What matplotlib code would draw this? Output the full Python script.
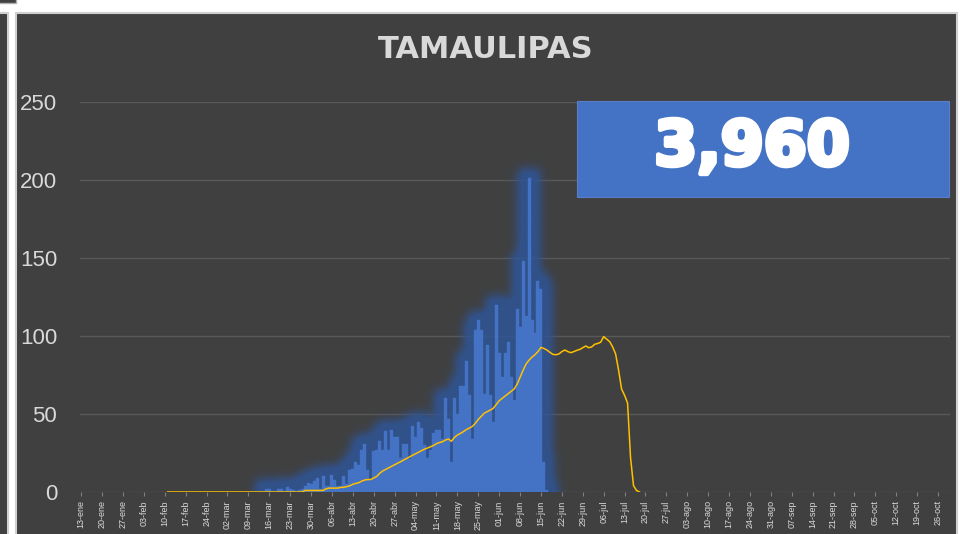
import numpy as np
import pandas as pd
import matplotlib
matplotlib.use("Agg")
import matplotlib.pyplot as plt
from matplotlib.patches import Rectangle
import matplotlib.patheffects as pe

plt.rcParams['font.family'] = ['Liberation Sans', 'DejaVu Sans']

# eje de fechas: una etiqueta por semana desde el 13-ene
inicio = pd.Timestamp('2020-01-13')
meses = ['ene', 'feb', 'mar', 'abr', 'may', 'jun', 'jul', 'ago', 'sep', 'oct', 'nov', 'dic']
n_dias = 291

# casos nuevos por dia, a partir del 15-mar
casos_inicio = '2020-03-15'
casos = [2, 2, 0, 0, 2, 2, 0, 3, 2, 1, 0, 1, 2, 4, 6, 5, 7, 9, 2, 10,
         4, 4, 11, 8, 4, 4, 10, 5, 14, 15, 19, 17, 27, 31, 14, 8, 26, 27, 33, 27,
         39, 27, 40, 35, 35, 22, 31, 31, 21, 42, 35, 45, 41, 30, 22, 27, 38, 40, 40, 34,
         60, 47, 19, 60, 50, 68, 68, 84, 62, 34, 104, 110, 104, 63, 94, 62, 45, 120, 89, 74,
         89, 96, 74, 59, 117, 106, 148, 113, 201, 110, 102, 135, 130, 19, 1]

# promedio movil, a partir del 11-feb
prom_inicio = '2020-02-11'
promedio = [0] * 46 + [
    1, 1, 1, 1, 1, 1, 1, 2, 2.5, 2.5, 2.5, 2.5, 3, 3, 3.5, 4, 5, 5.5, 6, 7,
    7.7, 8, 8, 9, 10, 12, 13.5, 14.5, 15.5, 16.5, 17.5, 18.5, 19.4, 20.5, 21.5, 22.5, 23.6, 24.5, 25.5, 26.5,
    27.5, 28.2, 29, 29.8, 31, 31.7, 32.2, 33.3, 34, 32.5, 35, 36.5, 37.5, 38.7, 40, 41, 42, 44, 46.5, 48.5,
    50.5, 51.5, 52.5, 53.6, 56, 58.5, 60, 61.5, 63, 64.5, 66, 69, 73.5, 78, 82, 84.5, 86.5, 88, 90, 92.7,
    92, 91, 89.5, 88.2, 88, 88.5, 90, 91, 90, 89.3, 90, 90.8, 91.4, 92.5, 93.6, 92.5, 93, 94.7, 95.2, 96,
    99.6, 98, 96.4, 93, 88.5, 78, 66, 62, 57, 22, 4, 1, 0]

estado = 'TAMAULIPAS'
total = sum(casos)

dias_casos = (pd.Timestamp(casos_inicio) - inicio).days + np.arange(len(casos))
dias_prom = (pd.Timestamp(prom_inicio) - inicio).days + np.arange(len(promedio))

fondo = '#404040'
azul = '#4472C4'
texto = '#d9d9d9'

fig = plt.figure(figsize=(9.6, 5.34), dpi=100, facecolor='white')

# paneles de fondo
fig.patches.append(Rectangle((16 / 960, -0.01), 941 / 960, 521 / 534 + 0.01, transform=fig.transFigure,
                             facecolor=fondo, edgecolor='#d0d0d0', lw=1.5, zorder=-2))
fig.patches.append(Rectangle((-0.01, -0.01), 8 / 960 + 0.01, 521 / 534 + 0.01, transform=fig.transFigure,
                             facecolor=fondo, edgecolor='#d0d0d0', lw=1.5, zorder=-2))
fig.patches.append(Rectangle((-0.01, 1 - 3 / 534), 16 / 960 + 0.01, 0.02, transform=fig.transFigure,
                             facecolor=fondo, edgecolor='#b0b0b0', lw=1, zorder=-2))

ax = fig.add_axes([80 / 960, 42 / 534, 870 / 960, 390 / 534])
ax.set_facecolor(fondo)
ax.patch.set_alpha(0)

# resplandor alrededor de las barras: silueta ensanchada y difuminada (~1 px por muestra)
xs = np.arange(-0.5, n_dias, 1 / 3)
ys = np.arange(-25, 250, 0.64)
alturas = dict(zip(dias_casos, casos))
h = np.array([alturas.get(i, 0) for i in np.round(xs).astype(int)], dtype=float)
r = 9
hp = np.pad(h, r)
h_anch = np.max([hp[i:i + len(h)] for i in range(2 * r + 1)], axis=0)
h_anch = np.where(h_anch > 0, h_anch + r * 0.64, 0)
mascara = ((ys[:, None] < h_anch[None, :]) & (h_anch[None, :] > 0)).astype(float)
k = np.exp(-0.5 * (np.arange(-18, 19) / 5.0) ** 2)
k /= k.sum()
borr = np.apply_along_axis(lambda f: np.convolve(f, k, mode='same'), 1, mascara)
borr = np.apply_along_axis(lambda c: np.convolve(c, k, mode='same'), 0, borr)
img = np.zeros(borr.shape + (4,))
img[..., 0] = 0x2F / 255
img[..., 1] = 0x55 / 255
img[..., 2] = 0x97 / 255
img[..., 3] = np.clip(borr * 1.3, 0, 1) * 0.85
ax.imshow(img, origin='lower', aspect='auto', interpolation='bilinear',
          extent=[xs[0] - 1 / 6, xs[-1] + 1 / 6, ys[0] - 0.32, ys[-1] + 0.32], zorder=1.5)

ax.bar(dias_casos, casos, width=1.0, color=azul, edgecolor=azul, linewidth=0.3, zorder=2)
ax.plot(dias_prom, promedio, color='#FFC000', lw=1.1, zorder=3)

ax.set_xlim(-0.4, n_dias)
ax.set_ylim(0, 250)
ax.set_yticks(range(0, 251, 50))
ax.yaxis.grid(True, color='#595959', lw=1)
ax.set_axisbelow(True)
for s in ax.spines.values():
    s.set_visible(False)

semanas = np.arange(0, 288, 7)
etiquetas = []
for d in semanas:
    f = inicio + pd.Timedelta(days=int(d))
    etiquetas.append('%02d-%s' % (f.day, meses[f.month - 1]))
ax.set_xticks(semanas)
ax.set_xticklabels(etiquetas, rotation=90, fontsize=6.5, color=texto)
ax.tick_params(axis='x', length=3, color='#7f7f7f', pad=3)
ax.tick_params(axis='y', length=0, pad=16.5, labelsize=16, labelcolor=texto)

fig.text(486 / 960, 1 - 50 / 534, estado, ha='center', va='center', fontsize=22,
         fontweight='bold', color=texto, family=['DejaVu Sans'])

# recuadro con el total acumulado
fig.patches.append(Rectangle((577 / 960, 1 - 197 / 534), 372 / 960, 96 / 534, transform=fig.transFigure,
                             facecolor=azul, edgecolor='#5a7fc8', lw=0.8, zorder=5))
fig.text(752 / 960, 1 - 148 / 534, '{:,}'.format(total), ha='center', va='center', fontsize=44.5,
         fontweight='bold', color='white', family=['DejaVu Sans'], zorder=6,
         path_effects=[pe.withStroke(linewidth=3.5, foreground='white')])

fig.savefig('out.png', dpi=100, facecolor='white')
